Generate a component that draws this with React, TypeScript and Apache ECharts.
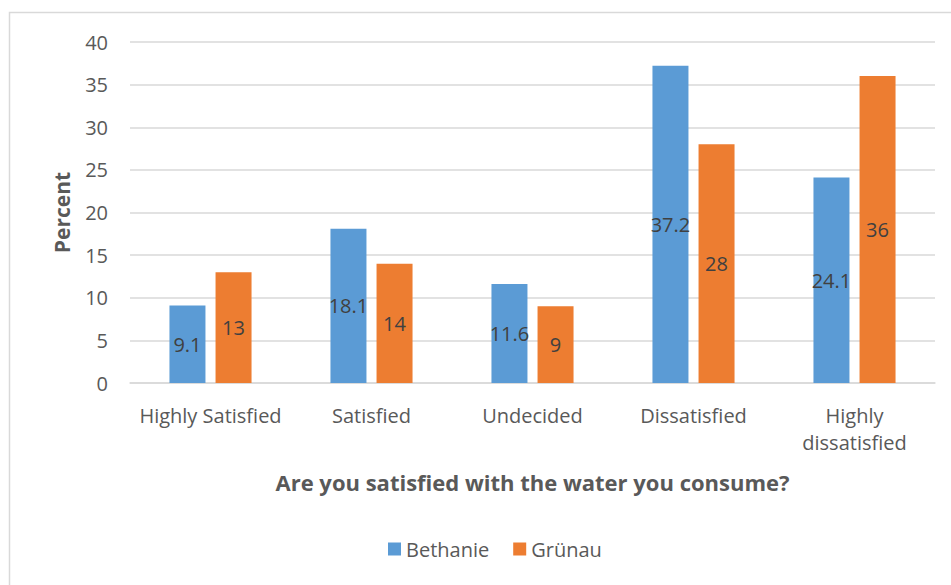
import React, { useEffect, useRef } from "react";
import * as echarts from "echarts";

const categories = ["Highly Satisfied", "Satisfied", "Undecided", "Dissatisfied", "Highly dissatisfied"];
const bethanie = [9.1, 18.1, 11.6, 37.2, 24.1];
const grunau = [13, 14, 9, 28, 36];
const seriesNames = ["Bethanie", "Grünau"];
const yTicks = { min: 0, max: 40, interval: 5 };

const FONT = "'Open Sans', 'Noto Sans', sans-serif";

export default function App() {
  const ref = useRef<HTMLDivElement>(null);
  useEffect(() => {
    if (!ref.current) return;
    const chart = echarts.init(ref.current, null, { renderer: "svg" });
    const label = {
      show: true,
      position: "inside" as const,
      color: "#404040",
      fontSize: 20,
      fontFamily: FONT,
    };
    chart.setOption({
      animation: false,
      textStyle: { fontFamily: FONT },
      graphic: [
        {
          type: "rect",
          shape: { x: 9.5, y: 12.5, width: 1200, height: 1200 },
          style: { fill: "none", stroke: "#D9D9D9", lineWidth: 1.5 },
          silent: true,
          z: -1,
        },
      ],
      legend: {
        data: seriesNames,
        bottom: 21,
        left: 383,
        itemWidth: 13,
        itemHeight: 13,
        itemGap: 24,
        icon: "rect",
        textStyle: { color: "#595959", fontSize: 20, fontFamily: FONT },
      },
      grid: { left: 130, right: 16, top: 42, bottom: 202 },
      xAxis: {
        type: "category",
        data: categories,
        axisLine: { lineStyle: { color: "#D9D9D9", width: 1.5 } },
        axisTick: { show: false },
        axisLabel: {
          color: "#595959",
          fontSize: 20,
          fontFamily: FONT,
          margin: 19,
          lineHeight: 27,
          interval: 0,
          formatter: (v: string) => (v.length > 17 ? v.replace(" ", "\n") : v),
        },
        name: "Are you satisfied with the water you consume?",
        nameLocation: "middle",
        nameGap: 88,
        nameTextStyle: { color: "#595959", fontSize: 22, fontWeight: "bold", fontFamily: FONT },
      },
      yAxis: {
        type: "value",
        min: yTicks.min,
        max: yTicks.max,
        interval: yTicks.interval,
        axisLine: { show: false },
        axisTick: { show: false },
        splitLine: { lineStyle: { color: "#D9D9D9", width: 1.5 } },
        axisLabel: { color: "#595959", fontSize: 20, fontFamily: FONT, margin: 22 },
        name: "Percent",
        nameLocation: "middle",
        nameGap: 58,
        nameTextStyle: { color: "#595959", fontSize: 21, fontWeight: "bold", fontFamily: FONT },
      },
      series: [
        {
          name: seriesNames[0],
          type: "bar",
          data: bethanie,
          barWidth: 36,
          barGap: "28%",
          itemStyle: { color: "#5B9BD5" },
          label,
        },
        {
          name: seriesNames[1],
          type: "bar",
          data: grunau,
          barWidth: 36,
          itemStyle: { color: "#ED7D31" },
          label,
        },
      ],
    });
    return () => chart.dispose();
  }, []);
  return (
    <div
      ref={ref}
      style={{ position: "fixed", left: 0, top: 0, width: 951, height: 585, background: "#fff" }}
    />
  );
}
